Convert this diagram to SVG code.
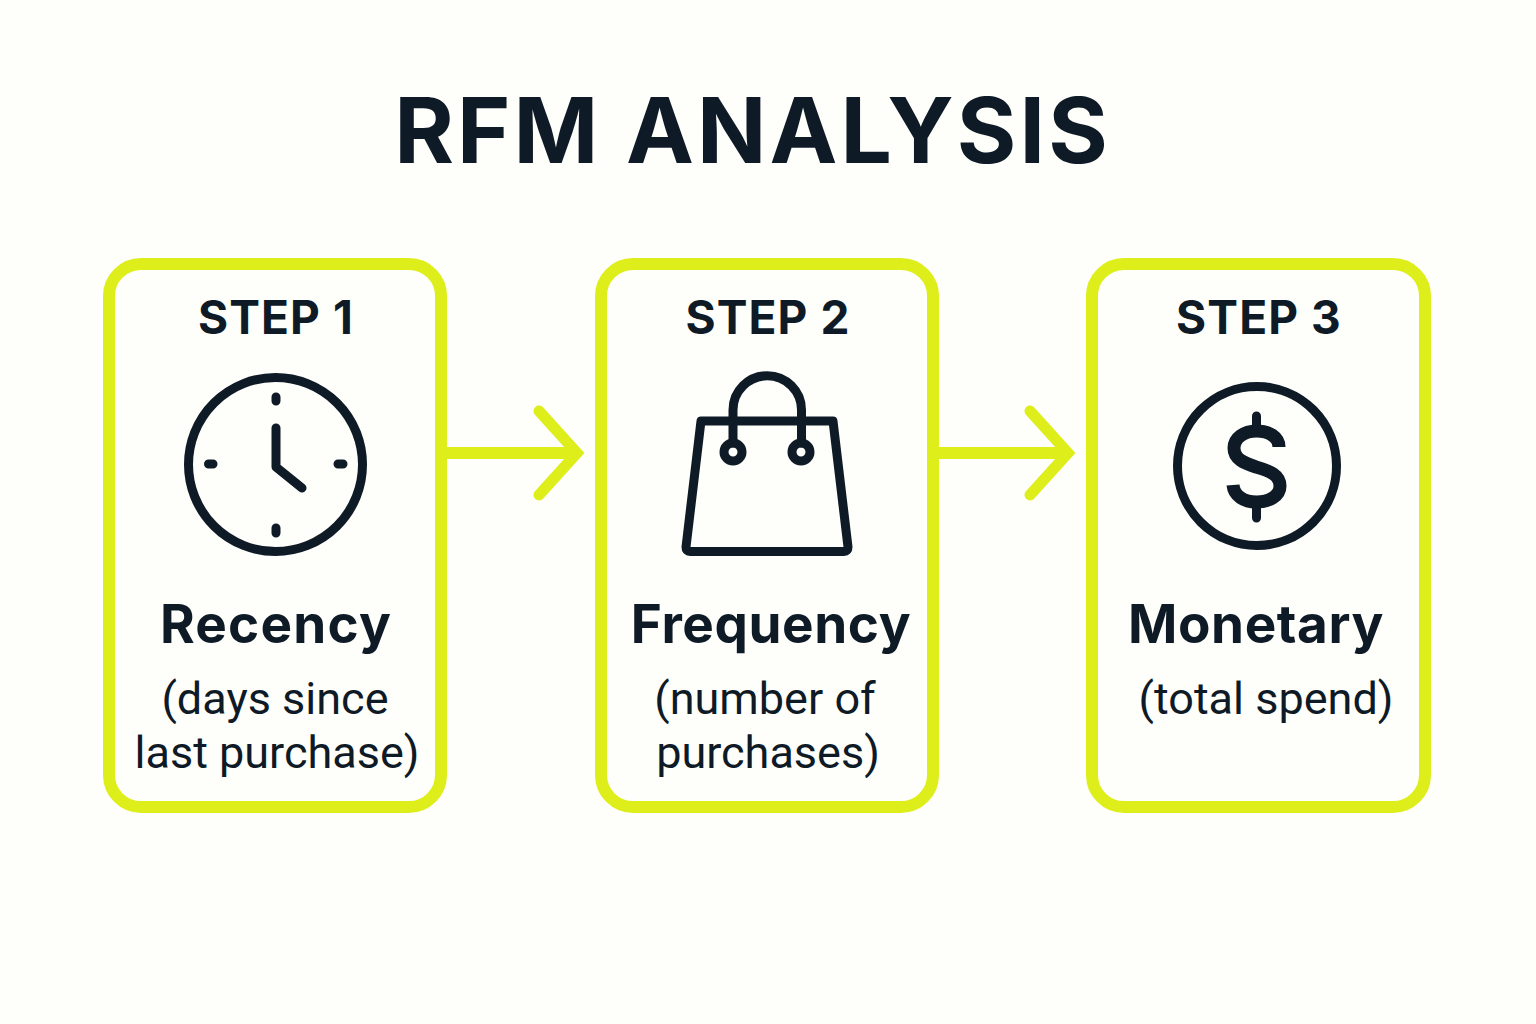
<svg xmlns="http://www.w3.org/2000/svg" width="1536" height="1024" viewBox="0 0 1536 1024">
<style>
text{font-family:Inter,"Liberation Sans",sans-serif;fill:#0e1a26;text-anchor:middle}
.t{font-size:91px;font-weight:700;letter-spacing:3.100px}
.s{font-size:46px;font-weight:700;letter-spacing:1.100px}
.h{font-size:53px;font-weight:700;letter-spacing:.6px}
.d{font-size:45px;font-weight:400;font-family:"Roboto","Liberation Sans",sans-serif}
.b{fill:none;stroke:#deee1a;stroke-width:12}
.a{fill:none;stroke:#deee1a;stroke-width:12}
.c{fill:none;stroke:#deee1a;stroke-width:11;stroke-linecap:round;stroke-linejoin:miter}
.i{fill:none;stroke:#0e1a26;stroke-width:9;stroke-linecap:round;stroke-linejoin:round}
.m{fill:none;stroke:#0e1a26;stroke-width:13}
</style>
<rect width="1536" height="1024" fill="#fefefa"/>
<text id="title" class="t" x="752.500" y="163">RFM ANALYSIS</text>
<g id="connectors">
<path class="a" d="M447 453H578"/>
<path class="c" d="M539 411L577 453L539 495"/>
<path class="a" d="M938 453H1069"/>
<path class="c" d="M1030 411L1068 453L1030 495"/>
</g>
<g id="step1">
<rect class="b" x="109" y="264" width="332" height="543" rx="32"/>
<text class="s" x="276" y="334">STEP 1</text>
<circle class="i" cx="275.500" cy="464.500" r="87"/>
<path class="i" d="M276 397V401M276 528V533M208.500 464H213M338 464H343M276 428V467L302 488"/>
<text class="h" x="276" y="643" style="letter-spacing:1.200px">Recency</text>
<text class="d" x="275" y="714">(days since</text>
<text class="d" x="277" y="768">last purchase)</text>
</g>
<g id="step2">
<rect class="b" x="601" y="264" width="332" height="543" rx="32"/>
<text class="s" x="768" y="334">STEP 2</text>
<path class="i" d="M701 421H833L848 547Q848 551.500 844 551.500H690Q686 551.500 686 547Z"/>
<path class="i" d="M733 443V410A34 34 0 0 1 801.500 410V443"/>
<circle class="i" cx="733" cy="452" r="9"/>
<circle class="i" cx="801" cy="452" r="9"/>
<text class="h" x="771" y="643">Frequency</text>
<text class="d" x="765" y="714">(number of</text>
<text class="d" x="768" y="768">purchases)</text>
</g>
<g id="step3">
<rect class="b" x="1092" y="264" width="333" height="543" rx="32"/>
<text class="s" x="1259" y="334">STEP 3</text>
<circle class="i" cx="1257" cy="466" r="79.500"/>
<path class="m" d="M1279 447C1279 437 1269 431 1256.500 431C1244 431 1234 438 1234 448C1234 459 1244 463 1256 467C1270 471 1280 475 1280 486C1280 496 1269 502 1256.500 502C1244 502 1234 496 1233 485"/>
<path class="i" d="M1256.500 416V426M1256.500 507V518"/>
<text class="h" x="1256" y="643">Monetary</text>
<text class="d" x="1266" y="714">(total spend)</text>
</g>
</svg>
